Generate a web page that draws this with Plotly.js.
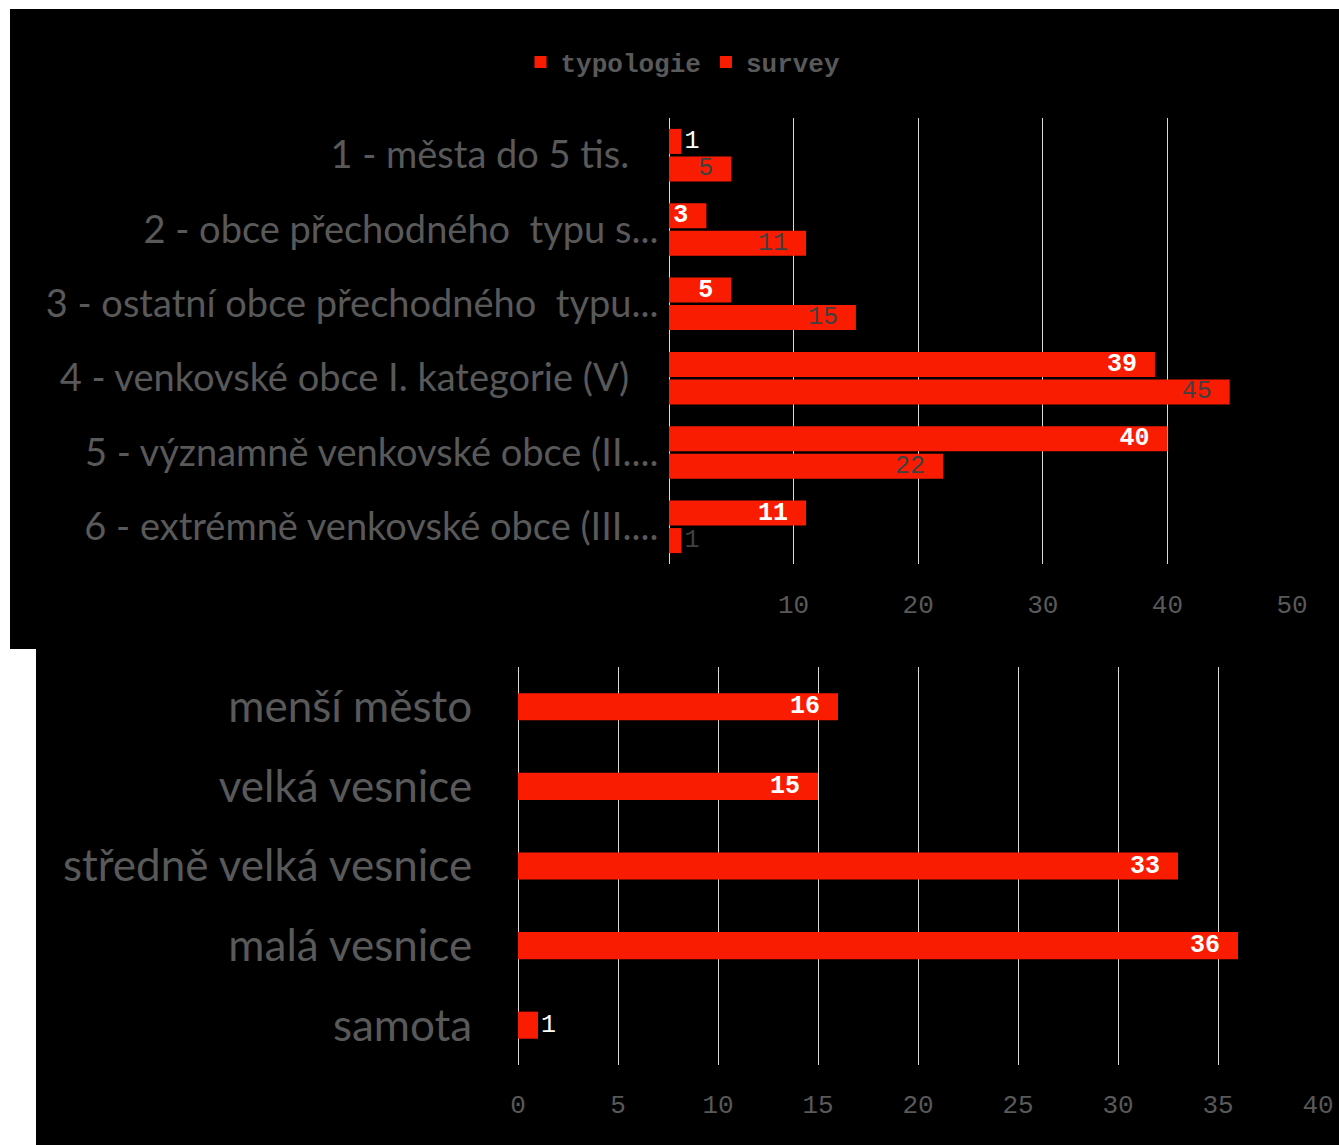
<!DOCTYPE html>
<html>
<head>
<meta charset="utf-8">
<script src="https://cdn.plot.ly/plotly-3.0.1.min.js"></script>
<style>html,body{margin:0;padding:0;background:#fff;}#chart{width:1339px;height:1145px;}</style>
</head>
<body>
<div id="chart"></div>
<script>
// ---- data ----
const topCategories = [
  "1 - města do 5 tis.\u00a0\u00a0\u00a0",
  "2 - obce přechodného  typu s...",
  "3 - ostatní obce přechodného  typu...",
  "4 - venkovské obce I. kategorie (V)\u00a0\u00a0\u00a0",
  "5 - významně venkovské obce (II....",
  "6 - extrémně venkovské obce (III...."
];
const typologieValues = [1, 3, 5, 39, 40, 11];
const surveyValues = [5, 11, 15, 45, 22, 1];
const topTickVals = [0, 10, 20, 30, 40, 50];
const topTickText = ["", "10", "20", "30", "40", "50"];

const bottomCategories = ["menší město", "velká vesnice", "středně velká vesnice", "malá vesnice", "samota"];
const bottomValues = [16, 15, 33, 36, 1];
const bottomTickVals = [0, 5, 10, 15, 20, 25, 30, 35, 40];
const bottomTickText = ["0", "5", "10", "15", "20", "25", "30", "35", "40"];

// ---- styles ----
const RED = "#FA1C00";
const GRID = "#d9d9d9";
const GRAY = "#595959";
const MONO = "Liberation Mono, Courier New, monospace";
const SANS = "Lato, Noto Sans, sans-serif";
const W = 1339, H = 1145;
const px = v => v / W;
const py = v => 1 - v / H;

function pos(vals) { return vals.map(v => v < 2 ? "outside" : "inside"); }

const traces = [
  {
    type: "bar", orientation: "h", name: "typologie",
    y: topCategories, x: typologieValues, xaxis: "x", yaxis: "y",
    marker: { color: RED },
    texttemplate: "%{x}\u00a0", textposition: pos(typologieValues), textangle: 0,
    constraintext: "none",
    insidetextanchor: "end",
    insidetextfont: { family: MONO, size: 25, color: "#ffffff", weight: "bold" },
    outsidetextfont: { family: MONO, size: 25, color: "#ffffff" },
    hoverinfo: "skip"
  },
  {
    type: "bar", orientation: "h", name: "survey",
    y: topCategories, x: surveyValues, xaxis: "x", yaxis: "y",
    marker: { color: RED },
    texttemplate: "%{x}\u00a0", textposition: pos(surveyValues), textangle: 0,
    constraintext: "none",
    insidetextanchor: "end",
    insidetextfont: { family: MONO, size: 25, color: "#404040" },
    outsidetextfont: { family: MONO, size: 25, color: "#404040" },
    hoverinfo: "skip"
  },
  {
    type: "bar", orientation: "h", name: "bottom", showlegend: false,
    y: bottomCategories, x: bottomValues, xaxis: "x2", yaxis: "y2",
    width: 0.34, offset: -0.17,
    marker: { color: RED },
    texttemplate: "%{x}\u00a0", textposition: pos(bottomValues), textangle: 0,
    constraintext: "none",
    insidetextanchor: "end",
    insidetextfont: { family: MONO, size: 25, color: "#ffffff", weight: "bold" },
    outsidetextfont: { family: MONO, size: 25, color: "#ffffff" },
    hoverinfo: "skip"
  }
];

const layout = {
  width: W, height: H,
  margin: { l: 0, r: 0, t: 0, b: 0, pad: 0 },
  paper_bgcolor: "#ffffff",
  plot_bgcolor: "rgba(0,0,0,0)",
  barmode: "group",
  bargap: 0.26,
  bargroupgap: 0.09,
  showlegend: true,
  legend: {
    orientation: "h", x: px(683), xanchor: "center", y: py(62), yanchor: "middle",
    font: { family: MONO, size: 26, color: GRAY, weight: "bold" },
    bgcolor: "rgba(0,0,0,0)", itemwidth: 30, traceorder: "normal"
  },
  shapes: [
    { type: "rect", xref: "paper", yref: "paper", x0: px(10), x1: 1, y0: py(649), y1: py(9),
      fillcolor: "#000", line: { width: 0 }, layer: "below" },
    { type: "rect", xref: "paper", yref: "paper", x0: px(36), x1: 1, y0: 0, y1: py(649),
      fillcolor: "#000", line: { width: 0 }, layer: "below" }
  ],
  xaxis: {
    domain: [px(669), px(1292)], anchor: "y", range: [0, 50],
    tickmode: "array", tickvals: topTickVals, ticktext: topTickText,
    showgrid: true, gridcolor: GRID, gridwidth: 1,
    zeroline: true, zerolinecolor: GRID, zerolinewidth: 1, showline: false,
    ticks: "outside", ticklen: 17, tickcolor: "rgba(0,0,0,0)",
    tickfont: { family: MONO, size: 26, color: GRAY },
    automargin: false, fixedrange: true
  },
  yaxis: {
    domain: [py(564), py(118)], anchor: "x", autorange: "reversed", type: "category",
    showgrid: false, zeroline: false, showline: false,
    ticks: "outside", ticklen: 2, tickcolor: "rgba(0,0,0,0)",
    tickfont: { family: SANS, size: 38, color: GRAY },
    automargin: false, fixedrange: true
  },
  xaxis2: {
    domain: [px(518), px(1318)], anchor: "y2", range: [0, 40],
    tickmode: "array", tickvals: bottomTickVals, ticktext: bottomTickText,
    showgrid: true, gridcolor: GRID, gridwidth: 1,
    zeroline: true, zerolinecolor: GRID, zerolinewidth: 1, showline: false,
    ticks: "outside", ticklen: 16, tickcolor: "rgba(0,0,0,0)",
    tickfont: { family: MONO, size: 26, color: GRAY },
    automargin: false, fixedrange: true
  },
  yaxis2: {
    domain: [py(1065), py(667)], anchor: "x2", autorange: "reversed", type: "category",
    showgrid: false, zeroline: false, showline: false,
    ticks: "outside", ticklen: 36, tickcolor: "rgba(0,0,0,0)",
    tickfont: { family: SANS, size: 44, color: GRAY },
    automargin: false, fixedrange: true
  }
};

Plotly.newPlot("chart", traces, layout, { displayModeBar: false, staticPlot: true });
</script>
</body>
</html>
